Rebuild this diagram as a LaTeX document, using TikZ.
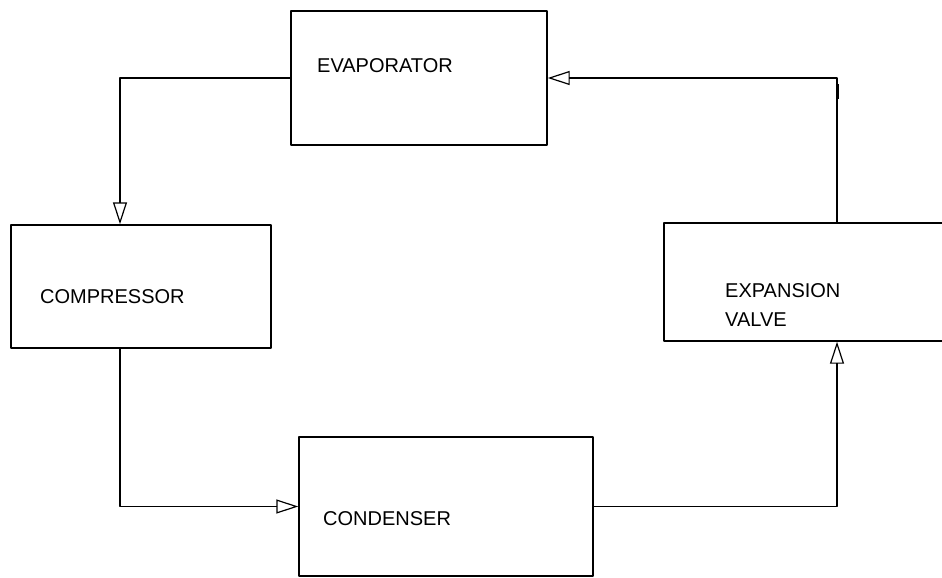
\documentclass[tikz,border=0pt]{standalone}
\usepackage{fontspec}
\setmainfont{Liberation Sans}
\usetikzlibrary{arrows.meta}
\tikzset{
  unitbox/.style={draw, line width=1.4pt, inner sep=0pt},
  lbl/.style={inner sep=0pt, anchor=base west},
  flow/.style={line width=1.4pt, -{Triangle[open, length=22pt, width=14pt, line width=1.2pt]}}
}
\begin{document}
\begin{tikzpicture}[x=1pt, y=-1pt, font=\fontsize{20}{29}\selectfont, line join=round]
	\useasboundingbox (0,0) rectangle (942,578);
	% the four units of the cycle
	\node[unitbox, minimum width=256pt, minimum height=134pt] (evap) at (419,78) {};
	\node[unitbox, minimum width=260pt, minimum height=123pt] (comp) at (141,286.5) {};
	\node[unitbox, minimum width=294pt, minimum height=139pt] (cond) at (446,506.5) {};
	\node[unitbox, minimum width=282pt, minimum height=118pt] (expv) at (805,282) {};
	\node[lbl] (evaptxt) at (317,72) {EVAPORATOR};
	\node[lbl] (comptxt) at (40,303) {COMPRESSOR};
	\node[lbl] (condtxt) at (323,525) {CONDENSER};
	\node[inner sep=0pt, anchor=north west, align=left] (expvtxt) at (725,283.5) {EXPANSION\\VALVE};
	% bends of the pipe
	\coordinate (tl) at (120,78);
	\coordinate (bl) at (120,506.5);
	\coordinate (br) at (837,506.5);
	\coordinate (tr) at (837,78);
	\draw[flow] (evap.west) -- (tl) -- (tl |- comp.north);
	\draw[flow] (tl |- comp.south) -- (bl) -- (cond.west);
	\draw[flow] (cond.east) -- (br) -- (br |- expv.south);
	\draw[flow] (br |- expv.north) -- (tr) -- (evap.east);
	\draw[line width=3pt] (837,84) -- (837,99);
\end{tikzpicture}
\end{document}
